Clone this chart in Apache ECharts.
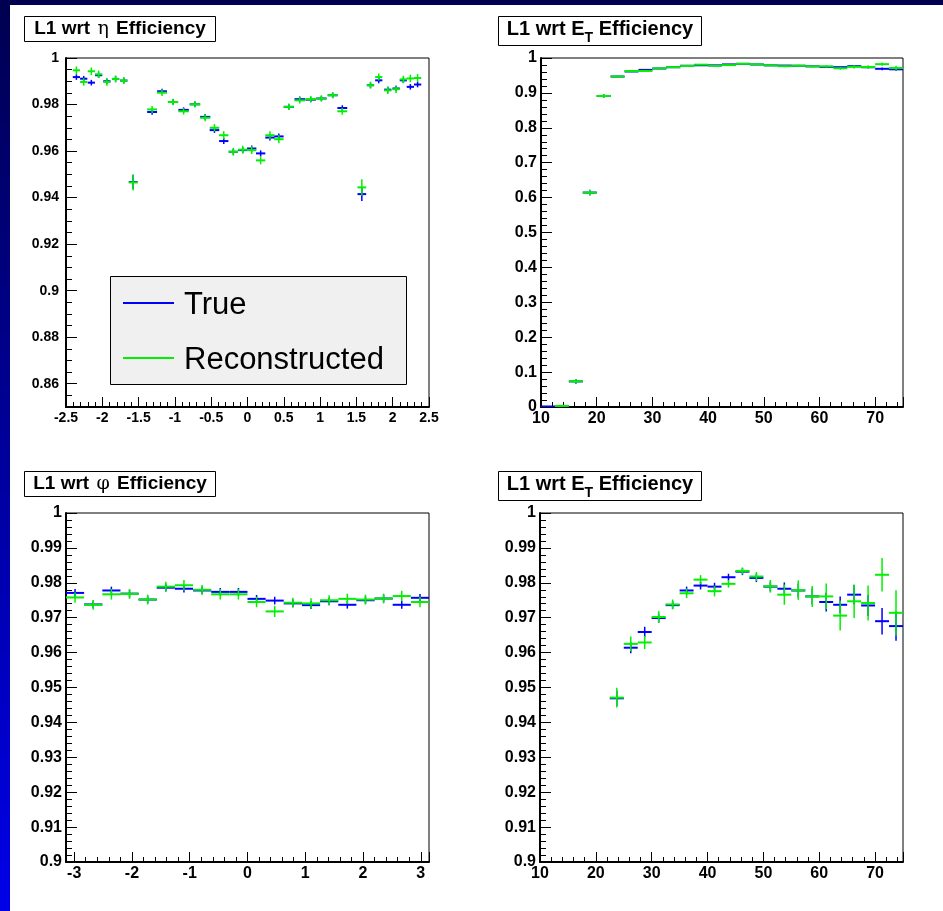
<!DOCTYPE html>
<html><head><meta charset="utf-8">
<script src="https://cdn.jsdelivr.net/npm/echarts@6/dist/echarts.min.js"></script>
<style>html,body{margin:0;padding:0;background:#fff}#c{width:943px;height:911px}</style>
</head><body><div id="c"></div><script>
// ---------- data ----------
const etaCenters = [-2.357, -2.256, -2.151, -2.051, -1.937, -1.817, -1.704, -1.575,
  -1.314, -1.177, -1.026, -0.880, -0.724, -0.583, -0.455, -0.327, -0.195, -0.066,
  0.058, 0.181, 0.309, 0.432, 0.569, 0.720, 0.871, 1.018, 1.173, 1.306,
  1.575, 1.694, 1.808, 1.932, 2.047, 2.147, 2.243, 2.343];
const etaHalfWidth = [0.05, 0.05, 0.05, 0.05, 0.05, 0.05, 0.05, 0.06,
  0.068, 0.068, 0.07, 0.072, 0.072, 0.07, 0.066, 0.064, 0.064, 0.064,
  0.064, 0.064, 0.064, 0.066, 0.07, 0.072, 0.072, 0.07, 0.068, 0.068,
  0.06, 0.05, 0.05, 0.05, 0.05, 0.05, 0.05, 0.05];
const etaTrue = [0.9918, 0.9911, 0.9894, 0.9926, 0.9900, 0.9910, 0.9903, 0.9467,
  0.9768, 0.9857, 0.9811, 0.9777, 0.9801, 0.9747, 0.9690, 0.9643, 0.9597, 0.9604,
  0.9611, 0.9590, 0.9658, 0.9663, 0.9790, 0.9823, 0.9821, 0.9826, 0.9840, 0.9785,
  0.9415, 0.9883, 0.9904, 0.9864, 0.9869, 0.9904, 0.9876, 0.9886];
const etaTrueErr = [0.0012, 0.0012, 0.0012, 0.0012, 0.0012, 0.0012, 0.0012, 0.0030,
  0.0012, 0.0011, 0.0011, 0.0011, 0.0011, 0.0012, 0.0012, 0.0013, 0.0013, 0.0013,
  0.0013, 0.0013, 0.0013, 0.0013, 0.0011, 0.0011, 0.0011, 0.0011, 0.0011, 0.0012,
  0.0030, 0.0012, 0.0012, 0.0012, 0.0012, 0.0012, 0.0012, 0.0012];
const etaReco = [0.9947, 0.9897, 0.9943, 0.9930, 0.9897, 0.9910, 0.9903, 0.9465,
  0.9779, 0.9851, 0.9811, 0.9771, 0.9801, 0.9743, 0.9700, 0.9668, 0.9597, 0.9606,
  0.9604, 0.9560, 0.9668, 0.9651, 0.9790, 0.9818, 0.9823, 0.9826, 0.9840, 0.9771,
  0.9444, 0.9883, 0.9918, 0.9861, 0.9866, 0.9908, 0.9912, 0.9914];
const etaRecoErr = [0.0017, 0.0016, 0.0016, 0.0016, 0.0016, 0.0015, 0.0015, 0.0035,
  0.0015, 0.0014, 0.0014, 0.0014, 0.0014, 0.0015, 0.0016, 0.0017, 0.0017, 0.0017,
  0.0017, 0.0017, 0.0017, 0.0017, 0.0014, 0.0014, 0.0014, 0.0014, 0.0014, 0.0015,
  0.0035, 0.0015, 0.0015, 0.0016, 0.0016, 0.0016, 0.0016, 0.0017];

const etCenters = [11.25, 13.75, 16.25, 18.75, 21.25, 23.75, 26.25, 28.75, 31.25, 33.75,
  36.25, 38.75, 41.25, 43.75, 46.25, 48.75, 51.25, 53.75, 56.25, 58.75,
  61.25, 63.75, 66.25, 68.75, 71.25, 73.75];
const etHalfWidth = 1.25;
const etTrue = [0.0015, 0.003, 0.0733, 0.6144, 0.8912, 0.9469, 0.9614, 0.9659, 0.9699, 0.9736,
  0.9778, 0.9792, 0.9789, 0.9816, 0.9832, 0.9814, 0.9789, 0.9783, 0.9778, 0.9761,
  0.9745, 0.9737, 0.9766, 0.9735, 0.9690, 0.9676];
const etTrueErr = [0.0005, 0.001, 0.007, 0.008, 0.005, 0.0022, 0.0016, 0.0015, 0.0013, 0.0011,
  0.0011, 0.0011, 0.0011, 0.0010, 0.0010, 0.0012, 0.0014, 0.0018, 0.0020, 0.0023,
  0.0027, 0.0024, 0.0028, 0.0030, 0.0038, 0.0042];
const etReco = [null, 0.003, 0.0733, 0.6144, 0.8912, 0.9471, 0.9625, 0.9629, 0.9702, 0.9738,
  0.9770, 0.9809, 0.9776, 0.9797, 0.9834, 0.9818, 0.9790, 0.9766, 0.9779, 0.9761,
  0.9761, 0.9706, 0.9747, 0.9742, 0.9823, 0.9714];
const etRecoErr = [0, 0.001, 0.007, 0.008, 0.005, 0.0028, 0.0021, 0.0019, 0.0017, 0.0014,
  0.0014, 0.0013, 0.0015, 0.0011, 0.0010, 0.0013, 0.0018, 0.0029, 0.0028, 0.0030,
  0.0037, 0.0043, 0.0048, 0.0050, 0.0048, 0.0065];

const phiCenters = [-2.985, -2.670, -2.356, -2.042, -1.728, -1.414, -1.100, -0.785, -0.471, -0.157,
  0.157, 0.471, 0.785, 1.100, 1.414, 1.728, 2.042, 2.356, 2.670, 2.985];
const phiHalfWidth = 0.157;
const phiTrue = [0.9771, 0.9738, 0.9778, 0.9769, 0.9752, 0.9786, 0.9783, 0.9778, 0.9774, 0.9774,
  0.9754, 0.9749, 0.9741, 0.9736, 0.9747, 0.9737, 0.9750, 0.9755, 0.9737, 0.9757];
const phiTrueErr = [0.0011, 0.0011, 0.0011, 0.0011, 0.0011, 0.0011, 0.0011, 0.0011, 0.0011, 0.0011,
  0.0011, 0.0011, 0.0011, 0.0011, 0.0011, 0.0011, 0.0011, 0.0011, 0.0011, 0.0011];
const phiReco = [0.9758, 0.9737, 0.9767, 0.9768, 0.9752, 0.9789, 0.9793, 0.9780, 0.9767, 0.9767,
  0.9745, 0.9718, 0.9743, 0.9741, 0.9750, 0.9754, 0.9752, 0.9755, 0.9762, 0.9745];
const phiRecoErr = [0.0015, 0.0014, 0.0015, 0.0014, 0.0014, 0.0014, 0.0015, 0.0014, 0.0015, 0.0015,
  0.0015, 0.0016, 0.0014, 0.0015, 0.0014, 0.0015, 0.0014, 0.0014, 0.0015, 0.0015];

const seriesNames = ['True', 'Reconstructed'];
const seriesColors = ['#0000ff', '#00f000'];

// ---------- helpers ----------
const FONT = '"Liberation Sans", Arial, Helvetica, sans-serif';
function pts(xs, hw, ys, es) {
  const out = [];
  for (let i = 0; i < xs.length; i++) {
    if (ys[i] === null || ys[i] === undefined) continue;
    out.push([xs[i], ys[i], Array.isArray(hw) ? hw[i] : hw, es[i]]);
  }
  return out;
}
function errSeries(name, idx, data, color) {
  return {
    type: 'custom', name: name, xAxisIndex: idx, yAxisIndex: idx, clip: true,
    silent: true, animation: false, data: data,
    renderItem: function (params, api) {
      const x = api.value(0), y = api.value(1), hw = api.value(2), e = api.value(3);
      const a = api.coord([x - hw, y]), b = api.coord([x + hw, y]);
      const c = api.coord([x, y - e]), d = api.coord([x, y + e]);
      return { type: 'group', children: [
        { type: 'line', shape: { x1: a[0], y1: a[1], x2: b[0], y2: b[1] }, style: { stroke: color, lineWidth: 2 } },
        { type: 'line', shape: { x1: c[0], y1: c[1], x2: d[0], y2: d[1] }, style: { stroke: color, lineWidth: 1.5 } }
      ] };
    }
  };
}
function fmt(iv) {
  return function (v) {
    const k = v / iv;
    if (Math.abs(k - Math.round(k)) > 1e-6) return '';
    return String(parseFloat(v.toFixed(6)));
  };
}
function axis(kind, idx, min, max, iv, minor, fs, margin) {
  const isX = kind === 'x';
  return {
    type: 'value', gridIndex: idx, min: min, max: max,
    minInterval: iv, maxInterval: iv, splitNumber: Math.max(1, Math.round((max - min) / iv)),
    position: isX ? 'bottom' : 'left',
    axisLine: { show: true, onZero: false, lineStyle: { color: '#000', width: 2 } },
    axisTick: { show: true, inside: true, length: isX ? 10 : 11, lineStyle: { color: '#000', width: 1 } },
    minorTick: { show: true, splitNumber: minor, length: isX ? 5 : 6, lineStyle: { color: '#000', width: 1 } },
    splitLine: { show: false }, minorSplitLine: { show: false },
    axisLabel: { color: '#000', fontWeight: 'bold', fontSize: fs, fontFamily: FONT, margin: margin, formatter: fmt(iv) }
  };
}
const grids = [
  { left: 66, top: 58, width: 363, height: 349 },
  { left: 541, top: 58, width: 362, height: 349 },
  { left: 66, top: 513, width: 363, height: 349 },
  { left: 540, top: 513, width: 363, height: 349 }
].map(g => Object.assign(g, { show: true, borderColor: '#000', borderWidth: 1, backgroundColor: '#fff', containLabel: false, outerBoundsMode: 'none' }));

const xAxes = [
  axis('x', 0, -2.5, 2.5, 0.5, 5, 14, 4),
  axis('x', 1, 10, 75, 10, 5, 16, 4),
  axis('x', 2, -Math.PI, Math.PI, 1, 5, 16, 4),
  axis('x', 3, 10, 75, 10, 5, 16, 4)
];
const yAxes = [
  axis('y', 0, 0.85, 1.0, 0.02, 4, 14, 7),
  axis('y', 1, 0, 1, 0.1, 5, 16, 4),
  axis('y', 2, 0.9, 1.0, 0.01, 5, 16, 4),
  axis('y', 3, 0.9, 1.0, 0.01, 5, 16, 4)
];

const series = [
  errSeries(seriesNames[0], 0, pts(etaCenters, etaHalfWidth, etaTrue, etaTrueErr), seriesColors[0]),
  errSeries(seriesNames[1], 0, pts(etaCenters, etaHalfWidth, etaReco, etaRecoErr), seriesColors[1]),
  errSeries(seriesNames[0], 1, pts(etCenters, etHalfWidth, etTrue, etTrueErr), seriesColors[0]),
  errSeries(seriesNames[1], 1, pts(etCenters, etHalfWidth, etReco, etRecoErr), seriesColors[1]),
  errSeries(seriesNames[0], 2, pts(phiCenters, phiHalfWidth, phiTrue, phiTrueErr), seriesColors[0]),
  errSeries(seriesNames[1], 2, pts(phiCenters, phiHalfWidth, phiReco, phiRecoErr), seriesColors[1]),
  errSeries(seriesNames[0], 3, pts(etCenters, etHalfWidth, etTrue, etTrueErr), seriesColors[0]),
  errSeries(seriesNames[1], 3, pts(etCenters, etHalfWidth, etReco, etRecoErr), seriesColors[1])
];

// ---------- titles / legend / frame ----------
const mctx = document.createElement('canvas').getContext('2d');
function tw(t, size, weight) { mctx.font = weight + ' ' + size + 'px ' + FONT; return mctx.measureText(t).width; }

function greekTitle(box, greek) {
  return [
    { type: 'rect', shape: { x: box[0] + 0.5, y: box[1] + 0.5, width: box[2], height: box[3] }, style: { fill: '#fff', stroke: '#000', lineWidth: 1 }, z: 10 },
    { type: 'text', z: 11, style: {
      text: '{b|L1 wrt }{g|' + greek + '}{b| Efficiency}', x: box[0] + box[2] / 2 + 0.5, y: box[1] + 13, align: 'center', verticalAlign: 'middle',
      rich: { b: { fontSize: 19, fontWeight: 'bold', fontFamily: FONT, fill: '#000' }, g: { fontSize: 19, fontWeight: 'normal', fontFamily: '"DejaVu Serif", serif', fill: '#000', padding: [0, 2, 0, 2] } } } }
  ];
}
function etTitle(box) {
  const s1 = 'L1 wrt E', s2 = 'T', s3 = ' Efficiency';
  const w1 = tw(s1, 20, 'bold'), w2 = tw(s2, 14, 'bold'), w3 = tw(s3, 20, 'bold');
  const x0 = box[0] + box[2] / 2 - (w1 + w2 + w3) / 2 + 0.5;
  const ym = box[1] + 13;
  const st = (t, size, x, y) => ({ type: 'text', z: 11, style: { text: t, x: x, y: y, align: 'left', verticalAlign: 'middle', fontSize: size, fontWeight: 'bold', fontFamily: FONT, fill: '#000' } });
  return [
    { type: 'rect', shape: { x: box[0] + 0.5, y: box[1] + 0.5, width: box[2], height: box[3] }, style: { fill: '#fff', stroke: '#000', lineWidth: 1 }, z: 10 },
    st(s1, 20, x0, ym), st(s2, 14, x0 + w1, ym + 9), st(s3, 20, x0 + w1 + w2, ym)
  ];
}

const graphic = [
  { type: 'rect', shape: { x: 0, y: 0, width: 10, height: 911 }, z: 20,
    style: { fill: new echarts.graphic.LinearGradient(0, 0, 0, 1, [{ offset: 0, color: '#000050' }, { offset: 1, color: '#0000e8' }]) } },
  { type: 'rect', shape: { x: 0, y: 0, width: 943, height: 5 }, z: 20, style: { fill: '#000050' } },
  ...greekTitle([24, 16, 191, 25], 'η'),
  ...etTitle([498, 16, 203, 29]),
  ...greekTitle([24, 471, 191, 25], 'φ'),
  ...etTitle([498, 471, 203, 29]),
  // legend
  { type: 'rect', z: 12, shape: { x: 110.5, y: 276.5, width: 296, height: 108 }, style: { fill: '#f0f0f0', stroke: '#000', lineWidth: 1 } },
  { type: 'line', z: 13, shape: { x1: 123, y1: 303, x2: 174, y2: 303 }, style: { stroke: seriesColors[0], lineWidth: 2 } },
  { type: 'line', z: 13, shape: { x1: 123, y1: 358, x2: 174, y2: 358 }, style: { stroke: seriesColors[1], lineWidth: 2 } },
  { type: 'text', z: 13, style: { text: seriesNames[0], x: 184, y: 305, align: 'left', verticalAlign: 'middle', fontSize: 31, fontFamily: FONT, fill: '#000' } },
  { type: 'text', z: 13, style: { text: seriesNames[1], x: 184, y: 360, align: 'left', verticalAlign: 'middle', fontSize: 31, fontFamily: FONT, fill: '#000' } }
];

const chart = echarts.init(document.getElementById('c'), null, { renderer: 'canvas' });
chart.setOption({
  backgroundColor: '#fff',
  animation: false,
  grid: grids,
  xAxis: xAxes,
  yAxis: yAxes,
  series: series,
  graphic: graphic
});
</script></body></html>
